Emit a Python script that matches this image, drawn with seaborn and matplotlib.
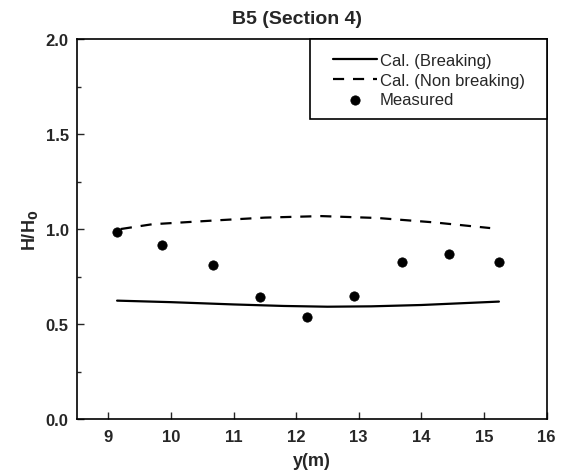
import matplotlib
matplotlib.use('Agg')
import matplotlib.pyplot as plt
from matplotlib.patches import Rectangle
from matplotlib.ticker import MultipleLocator
import numpy as np
import pandas as pd
import seaborn as sns

# data
y_meas = [9.14, 9.86, 10.67, 11.43, 12.17, 12.93, 13.69, 14.45, 15.24]
h_meas = [0.985, 0.915, 0.81, 0.64, 0.535, 0.645, 0.827, 0.87, 0.826]

y_break = [9.14, 10.0, 11.0, 11.8, 12.5, 13.2, 14.0, 15.24]
h_break = [0.623, 0.615, 0.603, 0.595, 0.591, 0.593, 0.60, 0.618]

y_nonbreak = [9.2, 9.7, 10.7, 11.5, 12.4, 13.3, 14.2, 15.1]
h_nonbreak = [1.0, 1.025, 1.045, 1.06, 1.068, 1.058, 1.035, 1.005]

x_ticks = [9, 10, 11, 12, 13, 14, 15, 16]
y_ticks = [0.0, 0.5, 1.0, 1.5, 2.0]

df_meas = pd.DataFrame({'y': y_meas, 'H': h_meas})
df_break = pd.DataFrame({'y': y_break, 'H': h_break})
df_nb = pd.DataFrame({'y': y_nonbreak, 'H': h_nonbreak})

sns.set_style('ticks')
plt.rcParams['font.family'] = ['Liberation Sans', 'DejaVu Sans']

fig = plt.figure(figsize=(5.71, 4.77), dpi=100)
ax = fig.add_axes([0.1349, 0.1195, 0.8222, 0.7966])

sns.lineplot(data=df_break, x='y', y='H', ax=ax, color='black', lw=1.6,
             label='Cal. (Breaking)')
sns.lineplot(data=df_nb, x='y', y='H', ax=ax, color='black', lw=1.6,
             linestyle=(0, (5, 4)), label='Cal. (Non breaking)')
sns.scatterplot(data=df_meas, x='y', y='H', ax=ax, color='black', s=45,
                edgecolor='black', label='Measured')

ax.set_xlim(8.5, 16)
ax.set_ylim(0, 2.0)
ax.set_xticks(x_ticks)
ax.set_yticks(y_ticks)
ax.set_yticklabels([f'{v:.1f}' for v in y_ticks])
ax.yaxis.set_minor_locator(MultipleLocator(0.25))
ax.tick_params(which='both', direction='in', top=False, right=False)
ax.tick_params(which='major', length=5, width=1, labelsize=12)
ax.tick_params(axis='x', which='major', pad=7)
ax.tick_params(axis='y', which='major', pad=6)
ax.tick_params(which='minor', length=3, width=1)
for lab in ax.get_xticklabels() + ax.get_yticklabels():
    lab.set_fontweight('bold')
for sp in ax.spines.values():
    sp.set_visible(True)
    sp.set_linewidth(1.2)
    sp.set_color('black')

ax.set_xlabel('y(m)', fontsize=13, fontweight='bold', labelpad=6)
ax.set_ylabel('H/H$_\\mathbf{0}$', fontsize=13, fontweight='bold', labelpad=4)
fig.text(297 / 571, 1 - 20 / 477, 'B5 (Section 4)', fontsize=14,
         fontweight='bold', ha='center', va='center')

# legend box drawn as its own rectangle, legend entries placed inside
box = Rectangle((0.496, 0.789), 0.504, 0.211, transform=ax.transAxes,
                facecolor='white', edgecolor='black', lw=1.2, zorder=5,
                clip_on=False)
ax.add_patch(box)
leg = ax.legend(loc='upper left', bbox_to_anchor=(0.545, 0.963),
                borderaxespad=0, borderpad=0, fontsize=12, frameon=False,
                handlelength=2.65, labelspacing=0.27, handletextpad=0.15)
leg.set_zorder(6)

fig.savefig('out.png', dpi=100)
